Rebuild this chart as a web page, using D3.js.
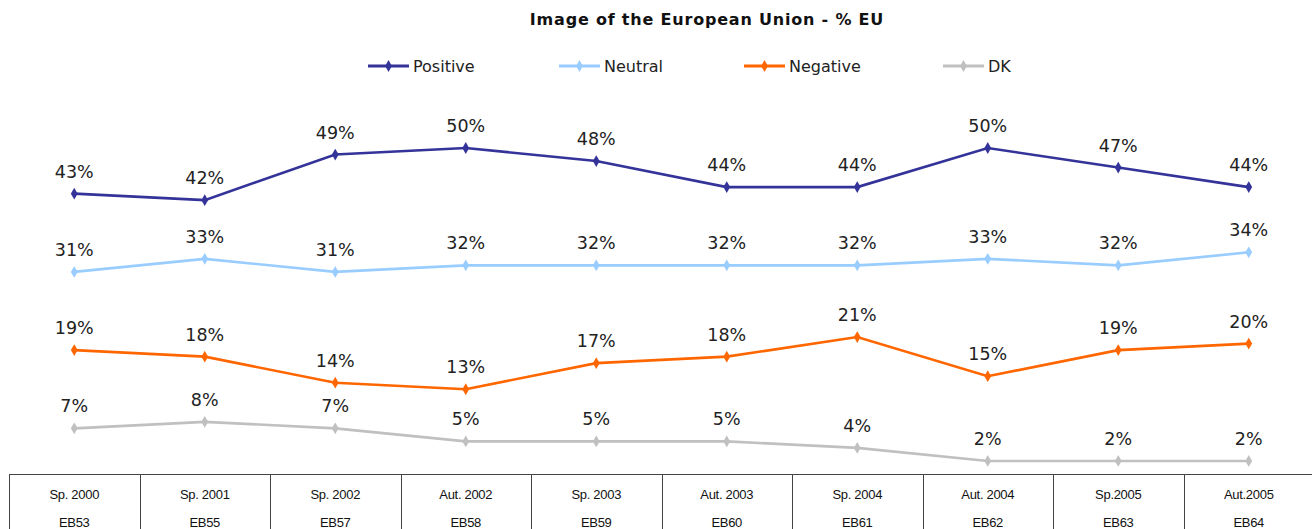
<!DOCTYPE html>
<html lang="en">
  <head>
    <meta charset="UTF-8" />
    <title>Image of the European Union - % EU</title>
    <style>
      body {
        margin: 0;
        background: #fff;
      }
      svg {
        display: block;
      }
      .title {
        font: bold 16px "DejaVu Sans", Verdana, sans-serif;
        letter-spacing: 0.8px;
        fill: #111;
      }
      .legend text {
        font: 16px "DejaVu Sans", Verdana, sans-serif;
        fill: #222;
      }
      .label {
        font: 17.5px "DejaVu Sans", Verdana, sans-serif;
        fill: #222;
      }
      .cell {
        font: 13px "Liberation Sans", Arial, sans-serif;
        letter-spacing: -0.3px;
        fill: #111;
      }
    </style>
  </head>
  <body>
    <svg width="1312" height="529"></svg>
    <script src="https://d3js.org/d3.v7.min.js"></script>
    <script>
      // waves and values
      const waves = ["Sp. 2000", "Sp. 2001", "Sp. 2002", "Aut. 2002", "Sp. 2003", "Aut. 2003", "Sp. 2004", "Aut. 2004", "Sp.2005", "Aut.2005"];
      const codes = ["EB53", "EB55", "EB57", "EB58", "EB59", "EB60", "EB61", "EB62", "EB63", "EB64"];
      const positive = [43, 42, 49, 50, 48, 44, 44, 50, 47, 44];
      const neutral = [31, 33, 31, 32, 32, 32, 32, 33, 32, 34];
      const negative = [19, 18, 14, 13, 17, 18, 21, 15, 19, 20];
      const dk = [7, 8, 7, 5, 5, 5, 4, 2, 2, 2];
      const seriesNames = ["Positive", "Neutral", "Negative", "DK"];

      const series = [
        { name: seriesNames[0], values: positive, color: "#333399" },
        { name: seriesNames[1], values: neutral, color: "#99ccff" },
        { name: seriesNames[2], values: negative, color: "#ff6600" },
        { name: seriesNames[3], values: dk, color: "#c0c0c0" }
      ];

      const svg = d3.select("svg");

      // x: one band per wave, same bands as the table below
      const x = d3.scaleBand().domain(waves).range([9, 1314]);
      const cx = (w) => x(w) + x.bandwidth() / 2;
      const y = d3.scaleLinear().domain([0, 50]).range([474, 148]);

      svg.append("text")
        .attr("class", "title")
        .attr("x", 707)
        .attr("y", 25)
        .attr("text-anchor", "middle")
        .text("Image of the European Union - % EU");

      // legend
      const legendX = [368, 559, 744, 943];
      const diamond = d3.symbol().type(d3.symbolDiamond).size(40);
      const lg = svg.append("g").attr("class", "legend");
      series.forEach((s, i) => {
        const g = lg.append("g").attr("transform", "translate(" + legendX[i] + ",66)");
        g.append("line").attr("x1", 0).attr("x2", 41).attr("stroke", s.color).attr("stroke-width", 3);
        g.append("path").attr("d", diamond).attr("transform", "translate(20.5,0)").attr("fill", s.color);
        g.append("text").attr("x", 45).attr("y", 6).text(s.name);
      });

      // lines
      const line = d3.line()
        .x((d, i) => cx(waves[i]))
        .y((d) => y(d));

      series.forEach((s) => {
        svg.append("path")
          .datum(s.values)
          .attr("fill", "none")
          .attr("stroke", s.color)
          .attr("stroke-width", 2.6)
          .attr("d", line);
        svg.selectAll(null)
          .data(s.values)
          .enter()
          .append("path")
          .attr("d", diamond)
          .attr("fill", s.color)
          .attr("transform", (d, i) => "translate(" + cx(waves[i]) + "," + y(d) + ")");
        svg.selectAll(null)
          .data(s.values)
          .enter()
          .append("text")
          .attr("class", "label")
          .attr("x", (d, i) => cx(waves[i]))
          .attr("y", (d) => y(d) - 16)
          .attr("text-anchor", "middle")
          .text((d) => d + "%");
      });

      // table under the chart
      const table = svg.append("g");
      table.append("line")
        .attr("x1", x.range()[0]).attr("x2", x.range()[1])
        .attr("y1", 474.5).attr("y2", 474.5)
        .attr("stroke", "#444");
      waves.concat(["end"]).forEach((w, i) => {
        const xx = Math.round(x.range()[0] + i * x.bandwidth()) + 0.5;
        table.append("line")
          .attr("x1", xx).attr("x2", xx)
          .attr("y1", 474).attr("y2", 529)
          .attr("stroke", "#444");
      });
      waves.forEach((w, i) => {
        table.append("text").attr("class", "cell")
          .attr("x", cx(w)).attr("y", 499).attr("text-anchor", "middle").text(w);
        table.append("text").attr("class", "cell")
          .attr("x", cx(w)).attr("y", 527).attr("text-anchor", "middle").text(codes[i]);
      });
    </script>
  </body>
</html>
